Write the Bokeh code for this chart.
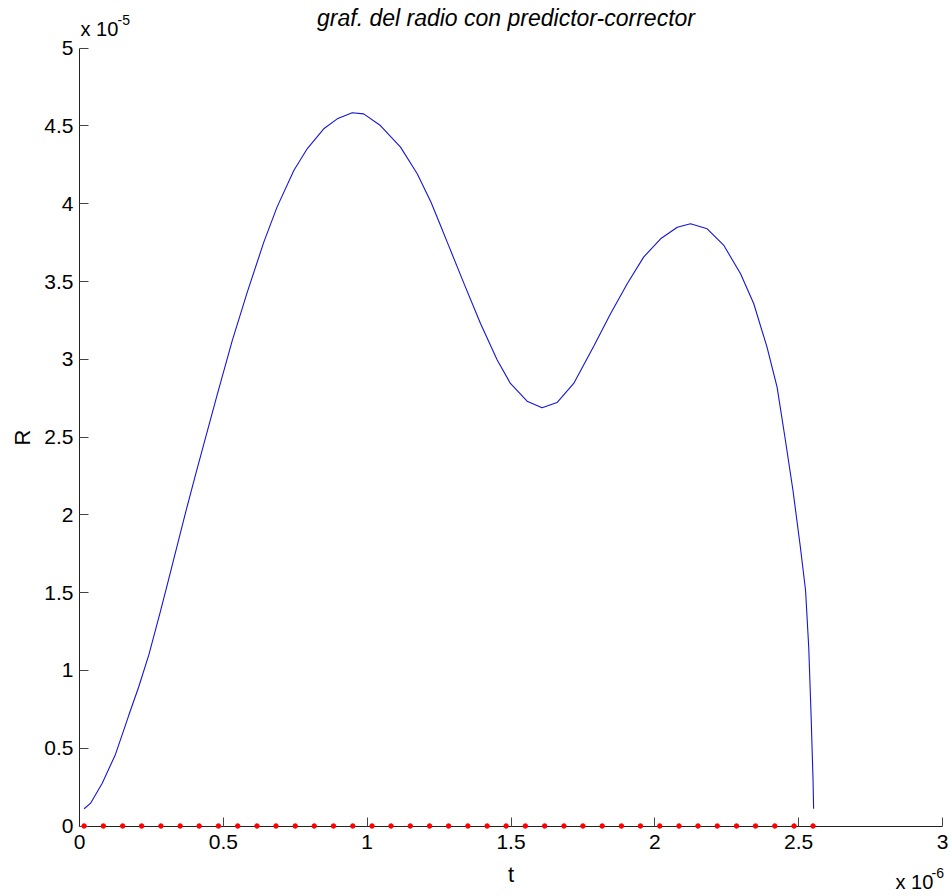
from bokeh.plotting import figure
from bokeh.models import Range1d, FixedTicker, CustomJSTickFormatter, Label, ColumnDataSource
from bokeh.embed import file_html
from bokeh.resources import INLINE

# time in units of 1e-6 s, radius in units of 1e-5
t_us = [0.016, 0.038, 0.079, 0.125, 0.171, 0.206, 0.241, 0.282, 0.305, 0.340,
        0.368, 0.403, 0.438, 0.479, 0.531, 0.583, 0.641, 0.687, 0.745, 0.792,
        0.849, 0.896, 0.948, 0.988, 1.046, 1.116, 1.174, 1.222, 1.255, 1.278,
        1.336, 1.394, 1.452, 1.498, 1.556, 1.608, 1.660, 1.718, 1.788, 1.846,
        1.904, 1.961, 2.020, 2.078, 2.124, 2.182, 2.240, 2.298, 2.344, 2.390,
        2.425, 2.454, 2.480, 2.506, 2.524, 2.535, 2.543, 2.550, 2.552]
radius = [0.111, 0.145, 0.275, 0.460, 0.710, 0.895, 1.100, 1.385, 1.550, 1.805,
          2.010, 2.255, 2.495, 2.775, 3.120, 3.430, 3.755, 3.980, 4.214, 4.355,
          4.482, 4.546, 4.585, 4.578, 4.503, 4.364, 4.193, 4.010, 3.860, 3.755,
          3.490, 3.230, 2.995, 2.845, 2.731, 2.688, 2.722, 2.845, 3.085, 3.293,
          3.486, 3.657, 3.775, 3.849, 3.871, 3.839, 3.732, 3.550, 3.357, 3.078,
          2.821, 2.478, 2.160, 1.792, 1.514, 1.149, 0.721, 0.293, 0.111]

# time steps of the predictor-corrector scheme, marked on the t axis
step_t = [0.016, 0.083, 0.150, 0.216, 0.283, 0.350, 0.416, 0.483, 0.550, 0.617,
          0.683, 0.750, 0.816, 0.883, 0.950, 1.017, 1.083, 1.150, 1.217, 1.283,
          1.350, 1.417, 1.483, 1.550, 1.617, 1.684, 1.750, 1.817, 1.884, 1.950,
          2.017, 2.084, 2.150, 2.217, 2.284, 2.350, 2.417, 2.484, 2.550]
step_r = [0.0] * len(step_t)

x_ticks = [0, 0.5, 1, 1.5, 2, 2.5, 3]
y_ticks = [0, 0.5, 1, 1.5, 2, 2.5, 3, 3.5, 4, 4.5, 5]

title_text = "graf. del radio con predictor-corrector"
x_label = "t"
y_label = "R"
x_exp = "-6"
y_exp = "-5"

FONT = "Liberation Sans"
W, H = 951, 896

# The data frame fills the whole canvas; the axes sit at fixed data
# positions, so every text is drawn inside the frame.
X0_PX, X3_PX = 79.0, 942.0        # screen x of t = 0 and t = 3
Y0_PX, Y5_PX = 825.5, 47.7        # screen y (from top) of R = 0 and R = 5
sx = (X3_PX - X0_PX) / 3.0
sy = (Y0_PX - Y5_PX) / 5.0
x_start = -X0_PX / sx
y_start = -(H - Y0_PX) / sy

p = figure(width=W, height=H, output_backend="svg", toolbar_location=None,
           x_range=Range1d(x_start, x_start + W / sx),
           y_range=Range1d(y_start, y_start + H / sy),
           min_border=0)

p.title.visible = False
p.grid.visible = False
p.outline_line_color = None
p.background_fill_color = "white"
p.border_fill_color = "white"

curve = ColumnDataSource(dict(t=t_us, r=radius))
steps = ColumnDataSource(dict(t=step_t, r=step_r))

p.line("t", "r", source=curve, line_color="#1515d5", line_width=1.1)
p.scatter("t", "r", source=steps, marker="circle", size=4.5,
          fill_color="#ff0000", line_color="#ff0000", level="overlay")

fmt = CustomJSTickFormatter(code="return String(Math.round(tick * 10) / 10);")

xa = p.xaxis[0]
ya = p.yaxis[0]
xa.ticker = FixedTicker(ticks=x_ticks)
ya.ticker = FixedTicker(ticks=y_ticks)
xa.fixed_location = 0
ya.fixed_location = 0
xa.bounds = (0, 3)
ya.bounds = (0, 5)

for ax in (xa, ya):
    ax.formatter = fmt
    ax.axis_line_color = "#222222"
    ax.axis_line_width = 1
    ax.major_tick_line_color = "#444444"
    ax.major_tick_in = 9
    ax.major_tick_out = 0
    ax.minor_tick_line_color = None
    ax.major_label_text_font = FONT
    ax.major_label_text_font_size = "21px"
    ax.major_label_text_color = "black"
    ax.axis_label_text_font = FONT
    ax.axis_label_text_font_size = "22px"
    ax.axis_label_text_font_style = "normal"
    ax.axis_label_text_color = "black"

xa.axis_label = x_label
ya.axis_label = y_label
xa.major_label_standoff = 9
ya.major_label_standoff = 6
xa.axis_label_standoff = 9
ya.axis_label_standoff = 6

# title over the axes
p.add_layout(Label(x=1.5, y=5, x_offset=-5, y_offset=30, text=title_text,
                   text_align="center", text_baseline="alphabetic",
                   text_font=FONT, text_font_size="23px",
                   text_font_style="italic", text_color="black"))

# axis multipliers  x 10^-5 (R) and x 10^-6 (t)
p.add_layout(Label(x=0, y=5, x_offset=1, y_offset=19, text="x 10",
                   text_align="left", text_baseline="alphabetic",
                   text_font=FONT, text_font_size="20px", text_color="black"))
p.add_layout(Label(x=0, y=5, x_offset=38, y_offset=28, text=y_exp,
                   text_align="left", text_baseline="alphabetic",
                   text_font=FONT, text_font_size="14px", text_color="black"))
p.add_layout(Label(x=3, y=0, x_offset=-47, y_offset=-56, text="x 10",
                   text_align="left", text_baseline="alphabetic",
                   text_font=FONT, text_font_size="20px", text_color="black"))
p.add_layout(Label(x=3, y=0, x_offset=-11, y_offset=-47, text=x_exp,
                   text_align="left", text_baseline="alphabetic",
                   text_font=FONT, text_font_size="14px", text_color="black"))

open("out.html", "w").write(file_html(p, INLINE))
